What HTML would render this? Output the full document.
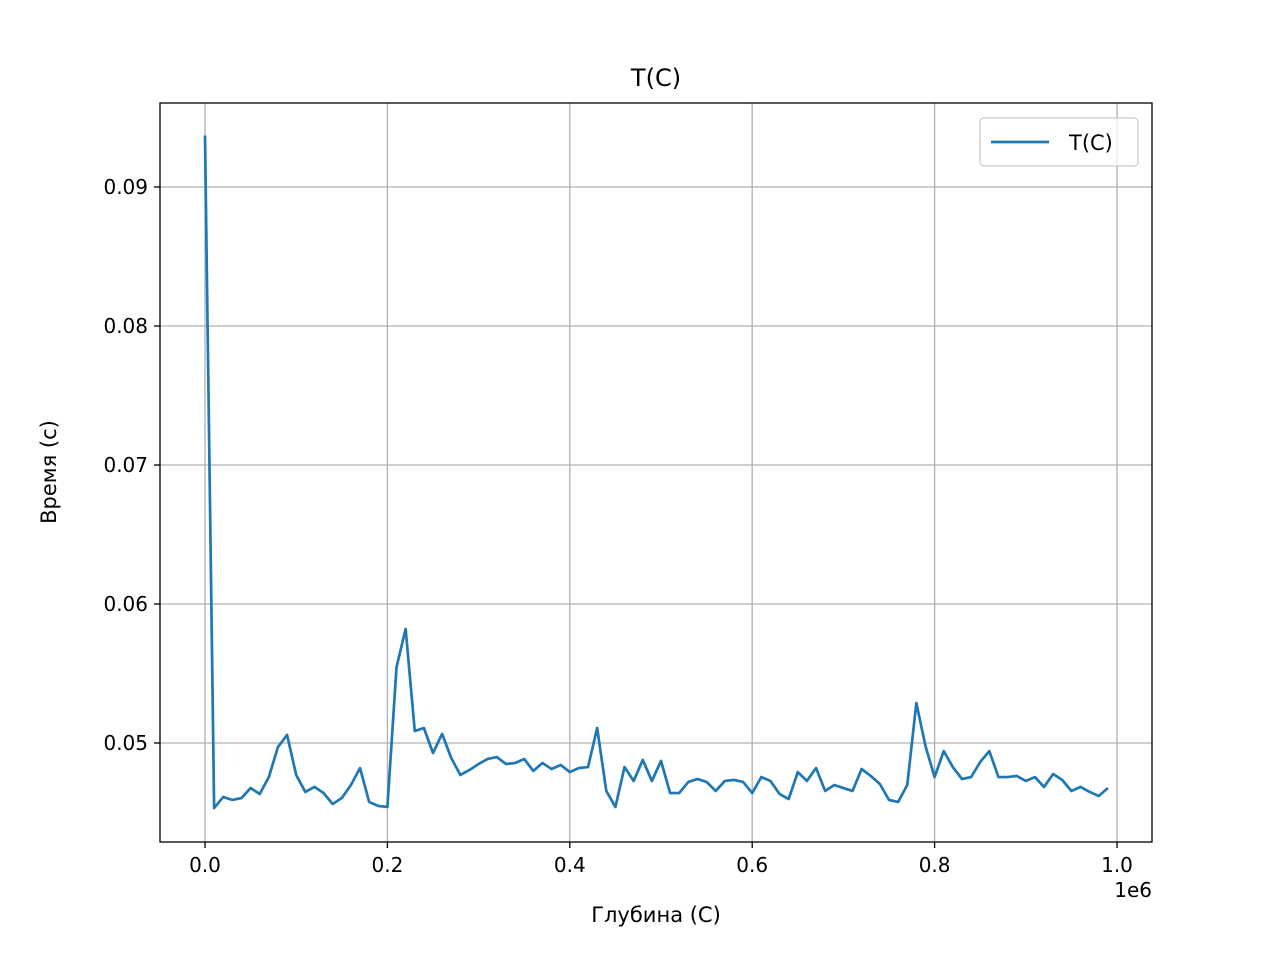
<!DOCTYPE html>
<html><head><meta charset="utf-8"><style>
body{margin:0;background:#fff;font-family:"Liberation Sans","DejaVu Sans",sans-serif}
svg text{font-family:"DejaVu Sans","Liberation Sans",sans-serif;fill:#000}
</style></head><body>
<svg id="chart" width="1270" height="950" xmlns="http://www.w3.org/2000/svg">
<rect width="1270" height="950" fill="#fff"/>
<g id="grid"></g>
<path id="line" fill="none" stroke="#1f77b4" stroke-width="2.7" stroke-linejoin="round"/>
<rect x="160" y="103" width="992" height="739" fill="none" stroke="#000" stroke-width="1.3"/>
<g id="ticks"></g>
<text x="656" y="86" font-size="24" text-anchor="middle">T(C)</text>
<text x="656" y="922" font-size="21" text-anchor="middle">Глубина (С)</text>
<text x="1152" y="897" font-size="20" text-anchor="end">1e6</text>
<text transform="translate(56,472) rotate(-90)" font-size="21" text-anchor="middle">Время (с)</text>
<g>
<rect x="980" y="118" width="158" height="48" rx="4" fill="#fff" fill-opacity="0.8" stroke="#ccc" stroke-width="1.3"/>
<line x1="991" y1="142" x2="1049" y2="142" stroke="#1f77b4" stroke-width="2.7"/>
<text x="1069" y="150" font-size="21">T(C)</text>
</g>
</svg>
<script>
const xStep = 10000;
const yValues = [0.0937,0.04532,0.04612,0.0459,0.04604,0.04676,0.04633,0.04755,0.04971,0.05058,
0.0477,0.04648,0.04684,0.0464,0.04561,0.04604,0.04698,0.0482,0.04576,0.04547,
0.0454,0.05546,0.0582,0.05086,0.05108,0.04928,0.05065,0.04892,0.0477,0.04806,
0.04849,0.04885,0.04899,0.04849,0.04856,0.04885,0.04799,0.04856,0.04813,0.04842,
0.04791,0.0482,0.04827,0.05108,0.04655,0.0454,0.04827,0.04727,0.04878,0.04727,
0.04871,0.0464,0.0464,0.0472,0.04741,0.0472,0.04655,0.04727,0.04734,0.0472,
0.0464,0.04755,0.04727,0.04633,0.04597,0.04791,0.04727,0.0482,0.04655,0.04698,
0.04676,0.04655,0.04813,0.04763,0.04705,0.0459,0.04576,0.04698,0.05288,0.04978,
0.04755,0.04942,0.04827,0.04741,0.04755,0.04863,0.04942,0.04755,0.04755,0.04763,
0.04727,0.04755,0.04684,0.04777,0.04734,0.04655,0.04684,0.04648,0.04619,0.04676];
const xTicks = [0,0.2,0.4,0.6,0.8,1.0];
const xTickLabels = ["0.0","0.2","0.4","0.6","0.8","1.0"];
const yTicks = [0.05,0.06,0.07,0.08,0.09];
const yTickLabels = ["0.05","0.06","0.07","0.08","0.09"];
const X = v => 205 + v*912/1e6;
const Y = v => 743 - (v-0.05)*13900;
const NS="http://www.w3.org/2000/svg";
const grid=document.getElementById('grid'), ticks=document.getElementById('ticks');
function mk(tag,attrs,parent){const e=document.createElementNS(NS,tag);for(const k in attrs)e.setAttribute(k,attrs[k]);parent.appendChild(e);return e;}
xTicks.forEach((t,i)=>{const x=X(t*1e6);
 const g=mk('line',{x1:x,x2:x,y1:103,y2:842,stroke:'#b0b0b0','stroke-width':1.3},grid);
 
 
 mk('line',{x1:x,x2:x,y1:842,y2:848,stroke:'#000','stroke-width':1.3},ticks);
 const tx=mk('text',{x:x,y:872,'font-size':20,'text-anchor':'middle'},ticks);tx.textContent=xTickLabels[i];
 
 
});
yTicks.forEach((t,i)=>{const y=Y(t);
 const g=mk('line',{x1:160,x2:1152,y1:y,y2:y,stroke:'#b0b0b0','stroke-width':1.3},grid);
 
 
 mk('line',{x1:154,x2:160,y1:y,y2:y,stroke:'#000','stroke-width':1.3},ticks);
 const tx=mk('text',{x:148,y:y+7,'font-size':20,'text-anchor':'end'},ticks);tx.textContent=yTickLabels[i];
 
 
});
document.getElementById('line').setAttribute('d',yValues.map((v,i)=>(i?'L':'M')+X(i*xStep).toFixed(2)+','+Y(v).toFixed(2)).join(''));
</script>
</body></html>
